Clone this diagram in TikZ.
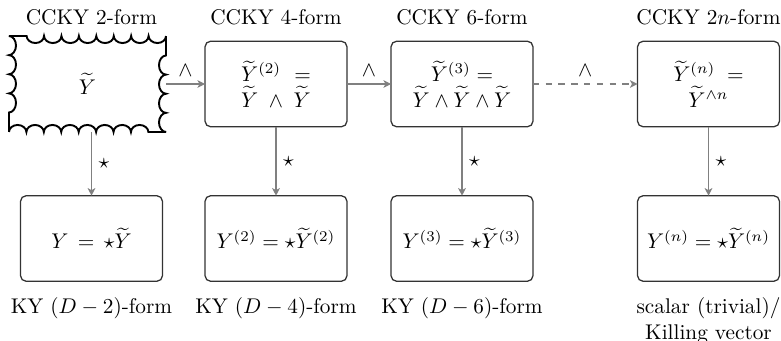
\documentclass[tikz,border=0pt]{standalone}
\usepackage{amsmath,amssymb}
\usetikzlibrary{decorations.pathmorphing,arrows.meta}
\newlength\lineWid
\tikzset{
  box/.style={draw=black!80, line width=0.6pt, rounded corners=2.6pt,
    minimum width=66.7pt, minimum height=40.2pt, inner sep=0pt, outer sep=0pt},
  wavybox/.style={minimum width=73.8pt, minimum height=45.1pt, inner sep=0pt, outer sep=0pt},
  wavyline/.style={draw=black, line width=0.9pt, decorate,
    decoration={bumps, amplitude=3.3pt, segment length=#1}},
  conn/.style={draw=black!50, line width=0.8pt, -{Stealth[length=3.6pt,width=3.6pt,inset=1pt]}},
  lab/.style={inner sep=3pt, font=\normalsize},
  title/.style={anchor=base, inner sep=0pt},
}
\begin{document}
\settowidth{\lineWid}{$\widetilde{Y}\;\wedge\;\widetilde{Y}$}
\begin{tikzpicture}[x=0.47pt,y=-0.47pt]
\useasboundingbox (0,0) rectangle (781,341);
% top row
\node[wavybox] (t1) at (87.5,84) {$\widetilde{Y}$};
\node[box, align=center] (t2) at (276,84) {\hbox to \lineWid{$\widetilde{Y}^{(2)}$\hfil$=$}\\$\widetilde{Y}\;\wedge\;\widetilde{Y}$};
\node[box, align=center] (t3) at (462,84) {$\widetilde{Y}^{(3)}=$\\$\widetilde{Y}\wedge\widetilde{Y}\wedge\widetilde{Y}$};
\node[box, align=center] (t4) at (708.5,84) {$\widetilde{Y}^{(n)}\;=$\\$\widetilde{Y}^{\wedge n}$};
% wavy border of t1
\draw[wavyline=16.38pt] (t1.north east) -- (t1.north west);
\draw[wavyline=17.98pt] (t1.north west) -- (t1.south west);
\draw[wavyline=16.38pt] (t1.south west) -- (t1.south east);
\draw[wavyline=17.98pt] (t1.south east) -- (t1.north east);
% bottom row
\node[box] (b1) at (91.5,238.5) {$Y\,=\,\star\widetilde{Y}$};
\node[box] (b2) at (276,238.5) {$Y^{(2)}=\star\widetilde{Y}^{(2)}$};
\node[box] (b3) at (462,238.5) {$Y^{(3)}=\star\widetilde{Y}^{(3)}$};
\node[box] (b4) at (708.5,238.5) {$Y^{(n)}=\star\widetilde{Y}^{(n)}$};
% titles
\node[title] (h1) at (91.5,25) {CCKY 2-form};
\node[title] (h2) at (276,25) {CCKY 4-form};
\node[title] (h3) at (462,25) {CCKY 6-form};
\node[title] (h4) at (708.5,25) {CCKY 2$n$-form};
\node[title] (f1) at (91.5,314) {KY $(D-2)$-form};
\node[title] (f2) at (276,314) {KY $(D-4)$-form};
\node[title] (f3) at (462,314) {KY $(D-6)$-form};
\node[title, align=center] (f4) at (708.5,339.5) {scalar (trivial)/\\Killing vector};
% connectors
\draw[conn] (t1.east |- t2.west) -- node[lab, above, black] {$\wedge$} (t2.west);
\draw[conn] (t2.east) -- node[lab, above, black] {$\wedge$} (t3.west);
\draw[conn, dashed] (t3.east) -- node[lab, above, black] {$\wedge$} (t4.west);
\draw[conn] (t1.south -| b1.north) -- node[lab, right, black] {$\star$} (b1.north);
\draw[conn] (t2.south) -- node[lab, right, black] {$\star$} (b2.north);
\draw[conn] (t3.south) -- node[lab, right, black] {$\star$} (b3.north);
\draw[conn] (t4.south) -- node[lab, right, black] {$\star$} (b4.north);
\end{tikzpicture}
\end{document}
